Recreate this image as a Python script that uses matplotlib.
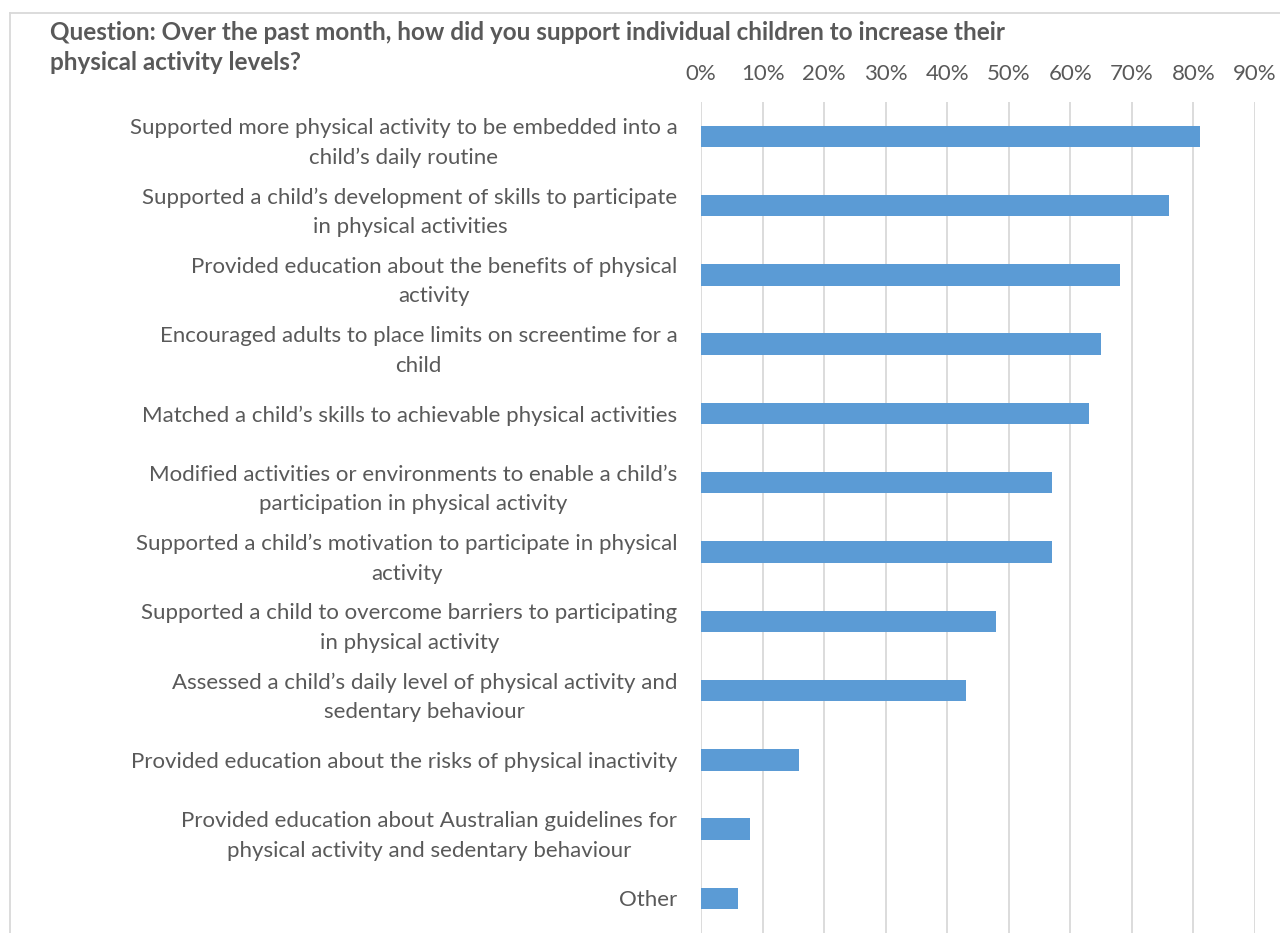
import matplotlib.pyplot as plt
from matplotlib.lines import Line2D

plt.rcParams['font.family'] = ['Lato', 'DejaVu Sans']

labels = [
    'Supported more physical activity to be embedded into a\nchild’s daily routine',
    'Supported a child’s development of skills to participate\nin physical activities',
    'Provided education about the benefits of physical\nactivity',
    'Encouraged adults to place limits on screentime for a\nchild',
    'Matched a child’s skills to achievable physical activities',
    'Modified activities or environments to enable a child’s\nparticipation in physical activity',
    'Supported a child’s motivation to participate in physical\nactivity',
    'Supported a child to overcome barriers to participating\nin physical activity',
    'Assessed a child’s daily level of physical activity and\nsedentary behaviour',
    'Provided education about the risks of physical inactivity',
    'Provided education about Australian guidelines for\nphysical activity and sedentary behaviour',
    'Other',
]
values = [81, 76, 68, 65, 63, 57, 57, 48, 43, 16, 8, 6]
ticks = [0, 10, 20, 30, 40, 50, 60, 70, 80, 90]
title_lines = [
    'Question: Over the past month, how did you support individual children to increase their',
    'physical activity levels?',
]

text_col = '#595959'
grid_col = '#D9D9D9'

fig = plt.figure(figsize=(12.8, 9.33), dpi=100)
ax = fig.add_axes([701 / 1280, 0.0, (1255 - 701) / 1280, 1 - 101.7 / 933])

ypos = list(range(len(labels)))
ax.barh(ypos, [v / 100 for v in values], height=0.31, color='#5B9BD5', zorder=3)

ax.set_xlim(0, 0.9)
ax.set_ylim(len(labels) - 0.5, -0.5)
ax.set_xticks([t / 100 for t in ticks])
ax.set_xticklabels([f'{t}%' for t in ticks])
ax.xaxis.tick_top()
ax.set_yticks(ypos)
ax.set_yticklabels(labels)
for lab in ax.get_yticklabels():
    lab.set_multialignment('center')
    lab.set_linespacing(1.6)

ax.tick_params(axis='x', length=0, pad=13, labelsize=16, labelcolor=text_col)
ax.tick_params(axis='y', length=0, pad=17, labelsize=16, labelcolor=text_col)
ax.grid(axis='x', color=grid_col, linewidth=1.3, zorder=0)
for s in ax.spines.values():
    s.set_visible(False)

# title, one text per line
for i, line in enumerate(title_lines):
    fig.text(50 / 1280, 1 - (32 + 31 * i) / 933, line,
             fontsize=17.5, fontweight='bold', color=text_col, va='center', ha='left')

# chart frame (cropped)
fig.add_artist(Line2D([10 / 1280, 1], [1 - 13 / 933, 1 - 13 / 933], color=grid_col, linewidth=1.3))
fig.add_artist(Line2D([10 / 1280, 10 / 1280], [0, 1 - 13 / 933], color=grid_col, linewidth=1.3))

fig.savefig('out.png', dpi=100)
